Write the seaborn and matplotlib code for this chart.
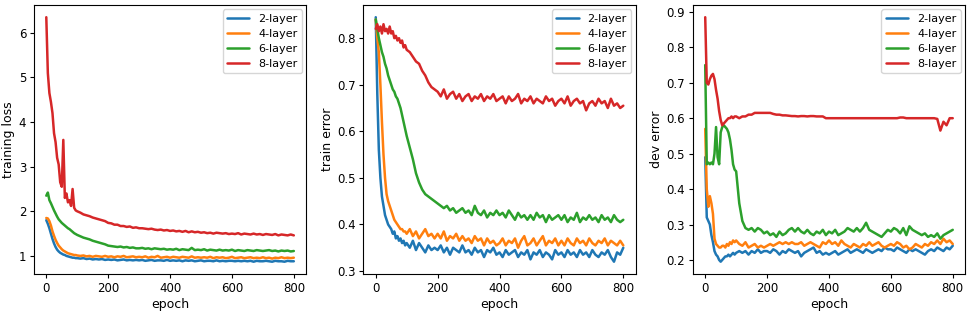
import numpy as np
import pandas as pd
import matplotlib
matplotlib.use("Agg")
import matplotlib.pyplot as plt
import seaborn as sns

epochs = list(range(0, 100, 5)) + list(range(100, 801, 10))
models = ["2-layer", "4-layer", "6-layer", "8-layer"]

# training loss
loss_2 = [1.80, 1.72, 1.62, 1.50, 1.38, 1.28, 1.20, 1.14, 1.10, 1.07, 1.05, 1.03, 1.02, 1.00, 0.99, 0.98, 0.97, 0.96, 0.96, 0.95,
          0.95, 0.94, 0.95, 0.93, 0.94, 0.92, 0.93, 0.92, 0.93, 0.91,
          0.92, 0.91, 0.92, 0.90, 0.91, 0.92, 0.90, 0.91, 0.90, 0.91,
          0.90, 0.91, 0.89, 0.90, 0.91, 0.89, 0.90, 0.90, 0.89, 0.91,
          0.89, 0.90, 0.89, 0.90, 0.88, 0.90, 0.89, 0.90, 0.88, 0.89,
          0.90, 0.88, 0.89, 0.89, 0.88, 0.90, 0.88, 0.89, 0.88, 0.89,
          0.89, 0.88, 0.89, 0.88, 0.89, 0.88, 0.89, 0.87, 0.89, 0.88,
          0.88, 0.89, 0.88, 0.87, 0.89, 0.88, 0.88, 0.87, 0.89, 0.88,
          0.88]
loss_4 = [1.85, 1.84, 1.78, 1.68, 1.55, 1.45, 1.36, 1.29, 1.23, 1.19, 1.15, 1.12, 1.10, 1.08, 1.06, 1.05, 1.04, 1.03, 1.02, 1.02,
          1.01, 1.00, 1.01, 0.99, 1.00, 0.98, 1.00, 0.99, 0.98, 1.00,
          0.98, 0.99, 0.97, 0.99, 0.98, 1.00, 0.97, 0.98, 0.99, 0.97,
          0.98, 0.97, 0.99, 0.96, 0.98, 0.97, 1.00, 0.96, 0.97, 0.98,
          0.96, 0.98, 0.97, 0.96, 0.98, 0.97, 0.96, 0.99, 0.96, 0.97,
          0.96, 0.97, 0.96, 0.98, 0.95, 0.97, 0.96, 0.97, 0.95, 0.96,
          0.98, 0.95, 0.96, 0.97, 0.95, 0.96, 0.97, 0.95, 0.96, 0.95,
          0.97, 0.95, 0.96, 0.94, 0.96, 0.95, 0.97, 0.95, 0.96, 0.95,
          0.96]
loss_6 = [2.35, 2.42, 2.25, 2.18, 2.10, 2.02, 1.95, 1.88, 1.82, 1.78, 1.74, 1.71, 1.68, 1.65, 1.62, 1.60, 1.57, 1.54, 1.51, 1.49,
          1.47, 1.44, 1.41, 1.39, 1.37, 1.34, 1.32, 1.30, 1.28, 1.26,
          1.23, 1.22, 1.21, 1.20, 1.21, 1.19, 1.20, 1.18, 1.19, 1.17,
          1.17, 1.18, 1.16, 1.17, 1.15, 1.17, 1.16, 1.15, 1.16, 1.14,
          1.15, 1.14, 1.16, 1.13, 1.15, 1.14, 1.13, 1.18, 1.13, 1.14,
          1.13, 1.15, 1.12, 1.14, 1.13, 1.12, 1.14, 1.12, 1.13, 1.12,
          1.14, 1.11, 1.13, 1.12, 1.11, 1.13, 1.12, 1.11, 1.13, 1.12,
          1.11, 1.12, 1.13, 1.11, 1.12, 1.10, 1.12, 1.11, 1.12, 1.10,
          1.11]
loss_8 = [6.35, 5.10, 4.65, 4.45, 4.20, 3.75, 3.55, 3.20, 3.05, 2.65, 2.55, 3.60, 2.30, 2.40, 2.20, 2.25, 2.12, 2.50, 2.08, 2.02,
          2.00, 1.97, 1.93, 1.91, 1.89, 1.86, 1.84, 1.82, 1.80, 1.78,
          1.74, 1.73, 1.70, 1.70, 1.67, 1.67, 1.65, 1.66, 1.63, 1.64,
          1.62, 1.62, 1.61, 1.60, 1.61, 1.59, 1.58, 1.59, 1.57, 1.58,
          1.56, 1.57, 1.55, 1.56, 1.54, 1.56, 1.53, 1.55, 1.53, 1.54,
          1.52, 1.53, 1.51, 1.52, 1.50, 1.52, 1.51, 1.50, 1.51, 1.49,
          1.50, 1.49, 1.51, 1.48, 1.50, 1.49, 1.48, 1.50, 1.48, 1.49,
          1.47, 1.49, 1.48, 1.47, 1.49, 1.46, 1.48, 1.47, 1.46, 1.48,
          1.46]

# train error
err_2 = [0.845, 0.68, 0.56, 0.50, 0.46, 0.44, 0.42, 0.41, 0.40, 0.395, 0.39, 0.38, 0.385, 0.37, 0.375, 0.365, 0.37, 0.36, 0.365, 0.355,
         0.36, 0.35, 0.365, 0.345, 0.36, 0.35, 0.34, 0.355, 0.345, 0.35,
         0.345, 0.355, 0.34, 0.35, 0.335, 0.35, 0.345, 0.34, 0.355, 0.34,
         0.345, 0.335, 0.35, 0.34, 0.345, 0.33, 0.345, 0.34, 0.35, 0.335,
         0.34, 0.33, 0.345, 0.335, 0.34, 0.345, 0.33, 0.34, 0.335, 0.345,
         0.325, 0.34, 0.335, 0.345, 0.33, 0.34, 0.335, 0.325, 0.345, 0.335,
         0.34, 0.33, 0.345, 0.335, 0.34, 0.33, 0.345, 0.335, 0.34, 0.33,
         0.345, 0.335, 0.33, 0.34, 0.335, 0.345, 0.33, 0.32, 0.34, 0.335,
         0.35]
err_4 = [0.84, 0.80, 0.77, 0.70, 0.62, 0.55, 0.50, 0.465, 0.45, 0.44, 0.43, 0.42, 0.41, 0.405, 0.40, 0.395, 0.39, 0.39, 0.385, 0.385,
         0.38, 0.39, 0.375, 0.385, 0.37, 0.38, 0.39, 0.375, 0.38, 0.37,
         0.38, 0.37, 0.385, 0.365, 0.375, 0.37, 0.38, 0.365, 0.375, 0.365,
         0.37, 0.36, 0.375, 0.365, 0.37, 0.355, 0.37, 0.36, 0.365, 0.355,
         0.36, 0.37, 0.355, 0.365, 0.36, 0.37, 0.35, 0.365, 0.375, 0.355,
         0.36, 0.37, 0.355, 0.365, 0.375, 0.355, 0.365, 0.36, 0.37, 0.355,
         0.365, 0.355, 0.37, 0.36, 0.355, 0.37, 0.36, 0.365, 0.355, 0.37,
         0.36, 0.355, 0.365, 0.36, 0.37, 0.355, 0.365, 0.36, 0.355, 0.365,
         0.355]
err_6 = [0.84, 0.82, 0.80, 0.785, 0.77, 0.76, 0.745, 0.735, 0.72, 0.71, 0.70, 0.69, 0.685, 0.675, 0.67, 0.66, 0.65, 0.635, 0.62, 0.605,
         0.59, 0.565, 0.54, 0.51, 0.49, 0.475, 0.465, 0.46, 0.455, 0.45,
         0.445, 0.44, 0.435, 0.44, 0.43, 0.435, 0.425, 0.43, 0.435, 0.425,
         0.43, 0.42, 0.44, 0.425, 0.42, 0.43, 0.415, 0.425, 0.42, 0.43,
         0.42, 0.425, 0.415, 0.43, 0.42, 0.41, 0.425, 0.415, 0.42, 0.41,
         0.42, 0.41, 0.425, 0.415, 0.42, 0.405, 0.42, 0.41, 0.415, 0.42,
         0.41, 0.42, 0.405, 0.415, 0.41, 0.425, 0.405, 0.415, 0.41, 0.42,
         0.41, 0.415, 0.405, 0.42, 0.41, 0.415, 0.405, 0.42, 0.41, 0.405,
         0.41]
err_8 = [0.82, 0.83, 0.815, 0.825, 0.81, 0.83, 0.815, 0.82, 0.81, 0.825, 0.81, 0.815, 0.80, 0.805, 0.795, 0.80, 0.79, 0.795, 0.78, 0.785,
         0.775, 0.77, 0.76, 0.75, 0.745, 0.73, 0.72, 0.705, 0.695, 0.69,
         0.685, 0.675, 0.69, 0.67, 0.68, 0.685, 0.67, 0.68, 0.665, 0.675,
         0.68, 0.665, 0.675, 0.67, 0.68, 0.665, 0.675, 0.67, 0.68, 0.665,
         0.67, 0.675, 0.66, 0.675, 0.665, 0.67, 0.68, 0.66, 0.67, 0.665,
         0.675, 0.66, 0.67, 0.665, 0.66, 0.675, 0.665, 0.67, 0.655, 0.665,
         0.67, 0.66, 0.675, 0.655, 0.665, 0.67, 0.66, 0.665, 0.645, 0.66,
         0.665, 0.655, 0.67, 0.66, 0.665, 0.65, 0.67, 0.655, 0.66, 0.65,
         0.655]

# dev error
dev_2 = [0.49, 0.32, 0.31, 0.30, 0.27, 0.25, 0.225, 0.215, 0.21, 0.20, 0.195, 0.20, 0.205, 0.21, 0.21, 0.215, 0.21, 0.215, 0.22, 0.215,
         0.22, 0.225, 0.22, 0.225, 0.215, 0.225, 0.22, 0.23, 0.22, 0.225,
         0.225, 0.22, 0.23, 0.225, 0.215, 0.225, 0.22, 0.23, 0.225, 0.22,
         0.225, 0.21, 0.22, 0.225, 0.23, 0.235, 0.22, 0.225, 0.215, 0.22,
         0.215, 0.22, 0.225, 0.215, 0.22, 0.225, 0.23, 0.22, 0.225, 0.23,
         0.225, 0.22, 0.23, 0.225, 0.22, 0.225, 0.23, 0.225, 0.235, 0.23,
         0.23, 0.225, 0.235, 0.23, 0.225, 0.22, 0.23, 0.225, 0.23, 0.225,
         0.22, 0.215, 0.225, 0.23, 0.225, 0.235, 0.23, 0.225, 0.235, 0.23,
         0.24]
dev_4 = [0.57, 0.40, 0.35, 0.38, 0.36, 0.33, 0.26, 0.245, 0.24, 0.235, 0.235, 0.24, 0.24, 0.235, 0.245, 0.24, 0.25, 0.245, 0.255, 0.25,
         0.255, 0.245, 0.24, 0.25, 0.235, 0.24, 0.245, 0.235, 0.24, 0.235,
         0.24, 0.245, 0.24, 0.245, 0.25, 0.245, 0.25, 0.245, 0.25, 0.245,
         0.245, 0.25, 0.24, 0.245, 0.25, 0.245, 0.24, 0.235, 0.25, 0.245,
         0.255, 0.245, 0.25, 0.24, 0.255, 0.245, 0.24, 0.235, 0.245, 0.24,
         0.235, 0.245, 0.24, 0.25, 0.24, 0.245, 0.25, 0.24, 0.235, 0.24,
         0.245, 0.24, 0.25, 0.245, 0.235, 0.24, 0.23, 0.235, 0.245, 0.24,
         0.235, 0.245, 0.24, 0.25, 0.245, 0.255, 0.245, 0.26, 0.25, 0.255,
         0.245]
dev_6 = [0.75, 0.47, 0.475, 0.47, 0.475, 0.47, 0.50, 0.575, 0.49, 0.47, 0.56, 0.575, 0.58, 0.575, 0.57, 0.56, 0.54, 0.51, 0.47, 0.455,
         0.45, 0.36, 0.31, 0.29, 0.285, 0.29, 0.28, 0.29, 0.285, 0.275,
         0.28, 0.27, 0.275, 0.265, 0.28, 0.27, 0.275, 0.285, 0.29, 0.28,
         0.29, 0.28, 0.275, 0.285, 0.275, 0.27, 0.28, 0.275, 0.285, 0.27,
         0.28, 0.275, 0.285, 0.27, 0.275, 0.28, 0.29, 0.285, 0.28, 0.29,
         0.28, 0.29, 0.305, 0.285, 0.28, 0.275, 0.27, 0.265, 0.275, 0.285,
         0.28, 0.29, 0.285, 0.275, 0.29, 0.27, 0.295, 0.285, 0.28, 0.275,
         0.27, 0.275, 0.265, 0.27, 0.265, 0.275, 0.26, 0.27, 0.275, 0.28,
         0.285]
dev_8 = [0.885, 0.70, 0.695, 0.71, 0.72, 0.725, 0.71, 0.68, 0.655, 0.62, 0.595, 0.58, 0.585, 0.59, 0.595, 0.60, 0.60, 0.605, 0.60, 0.605,
         0.605, 0.60, 0.605, 0.605, 0.61, 0.61, 0.615, 0.615, 0.615, 0.615,
         0.615, 0.615, 0.612, 0.61, 0.61, 0.608, 0.608, 0.607, 0.606, 0.606,
         0.605, 0.606, 0.606, 0.605, 0.606, 0.606, 0.605, 0.605, 0.605, 0.60,
         0.60, 0.60, 0.60, 0.60, 0.60, 0.60, 0.60, 0.60, 0.60, 0.60,
         0.60, 0.60, 0.60, 0.60, 0.60, 0.60, 0.60, 0.60, 0.60, 0.60,
         0.60, 0.60, 0.60, 0.602, 0.602, 0.60, 0.60, 0.60, 0.60, 0.60,
         0.60, 0.60, 0.60, 0.60, 0.60, 0.598, 0.565, 0.59, 0.58, 0.60,
         0.60]


def long_frame(series):
    # one row per (epoch, model) for seaborn
    rows = []
    for name, vals in zip(models, series):
        rows.append(pd.DataFrame({"epoch": epochs, "value": vals, "model": name}))
    return pd.concat(rows, ignore_index=True)


panels = [
    ("training loss", [loss_2, loss_4, loss_6, loss_8]),
    ("train error", [err_2, err_4, err_6, err_8]),
    ("dev error", [dev_2, dev_4, dev_6, dev_8]),
]

sns.set_style("ticks")
plt.rcParams["axes.edgecolor"] = "black"
plt.rcParams["xtick.color"] = "black"
plt.rcParams["ytick.color"] = "black"
plt.rcParams["text.color"] = "black"
plt.rcParams["axes.labelcolor"] = "black"
plt.rcParams["xtick.major.size"] = 3
plt.rcParams["ytick.major.size"] = 3
plt.rcParams["xtick.major.pad"] = 2.5
plt.rcParams["ytick.major.pad"] = 2.5
plt.rcParams["axes.labelpad"] = 2.5
plt.rcParams["font.family"] = ["DejaVu Sans"]

fig, axes = plt.subplots(1, 3, figsize=(9.69, 3.12), dpi=100)
fig.subplots_adjust(left=0.035, right=0.996, bottom=0.122, top=0.984, wspace=0.21)

palette = sns.color_palette("tab10", 4)

for ax, (ylabel, series) in zip(axes, panels):
    df = long_frame(series)
    sns.lineplot(data=df, x="epoch", y="value", hue="model", palette=palette,
                 estimator=None, linewidth=1.8, ax=ax)
    ax.set_xlabel("epoch", fontsize=9)
    ax.set_ylabel(ylabel, fontsize=9)
    ax.set_xticks([0, 200, 400, 600, 800])
    ax.tick_params(labelsize=8.5)
    sns.move_legend(ax, "upper right", title=None, fontsize=8,
                    borderaxespad=0.4, handlelength=2.0, labelspacing=0.45)

fig.savefig("out.png", dpi=100)
